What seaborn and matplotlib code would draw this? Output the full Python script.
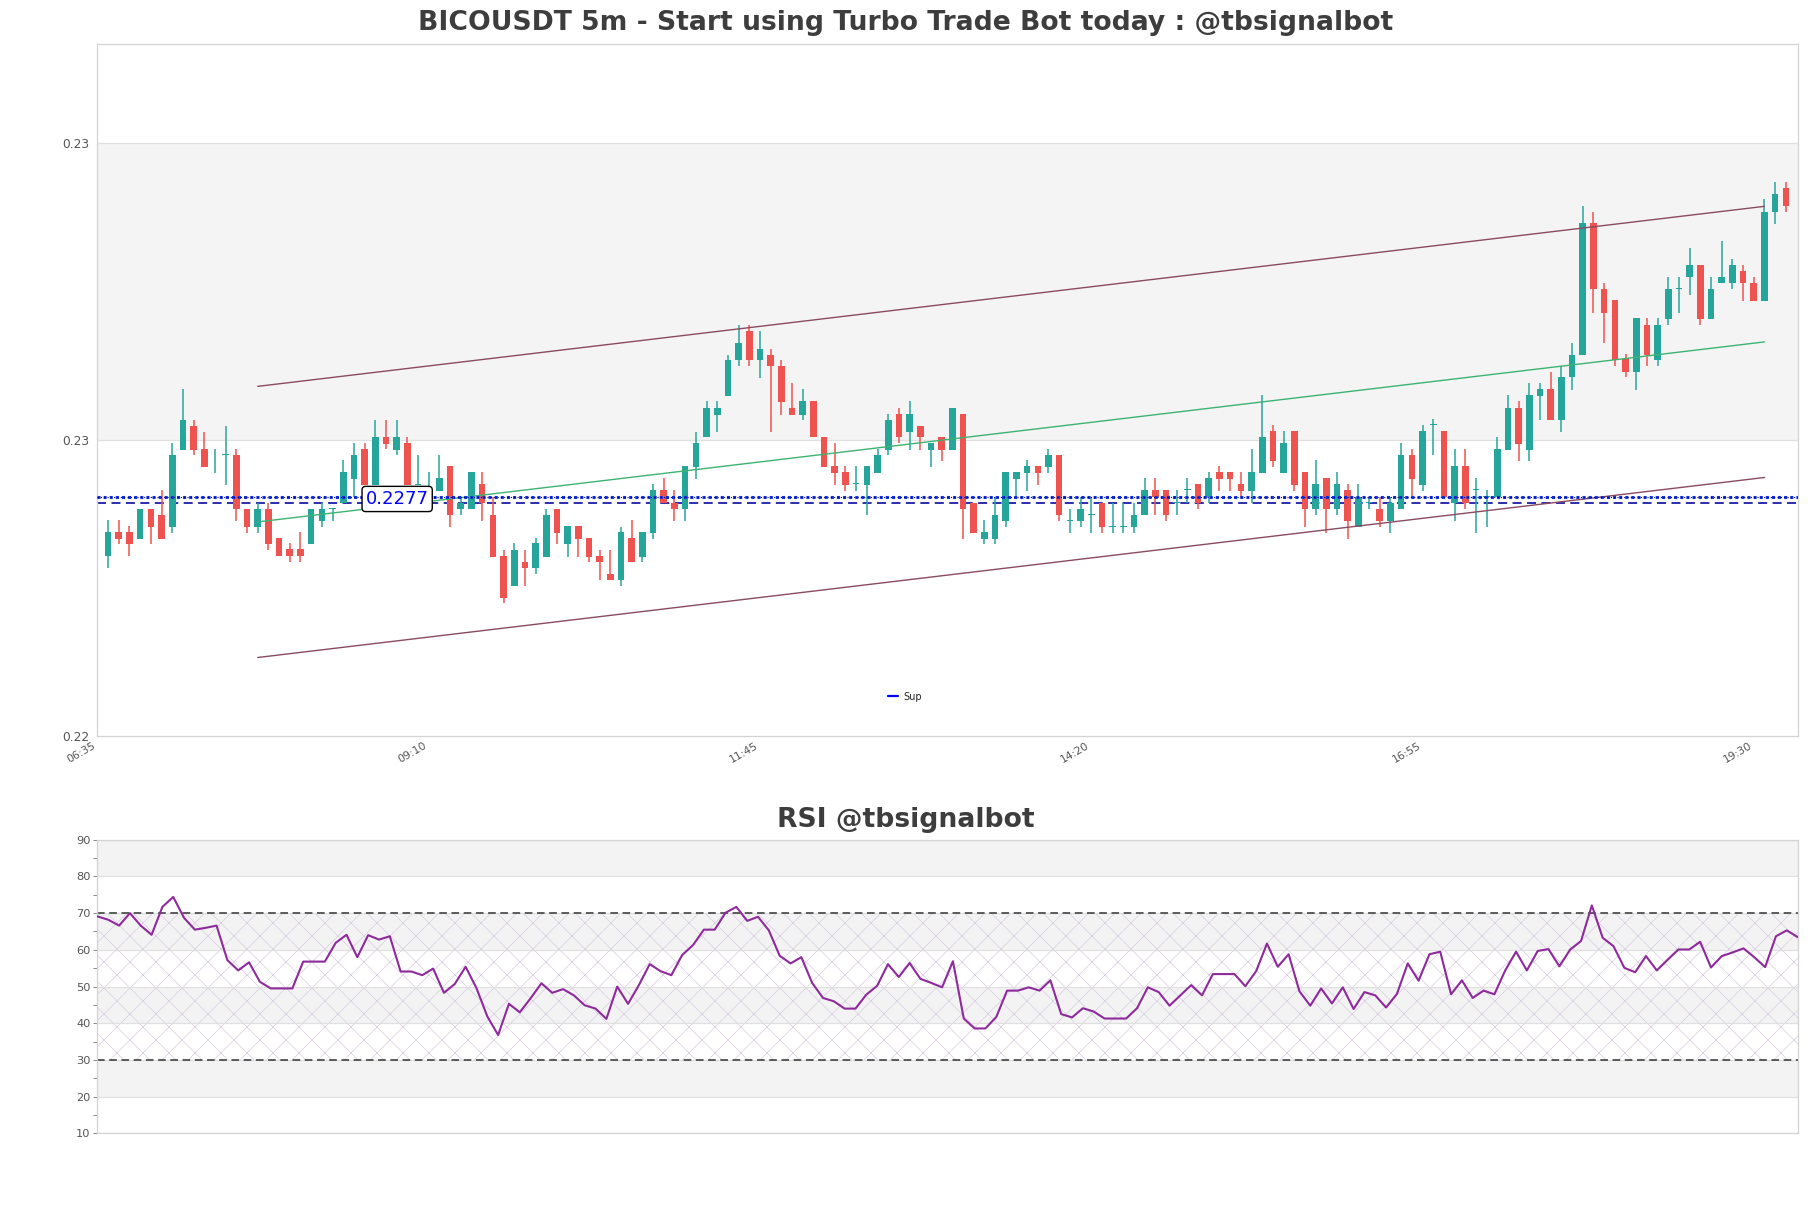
import numpy as np
import pandas as pd
import matplotlib
matplotlib.use("Agg")
import matplotlib.pyplot as plt
from matplotlib.lines import Line2D
from matplotlib.ticker import FormatStrFormatter, MultipleLocator
import seaborn as sns

# ---------------- data ----------------
open_ = [0.22693, 0.22725, 0.22725, 0.22716, 0.22757, 0.22749, 0.22732, 0.22836, 0.22869, 0.22837,
         0.22822, 0.22829, 0.22830, 0.22757, 0.22732, 0.22757, 0.22717, 0.22702, 0.22702, 0.22709,
         0.22740, 0.22756, 0.22764, 0.22797, 0.22837, 0.22789, 0.22853, 0.22836, 0.22845, 0.22789,
         0.22779, 0.22781, 0.22814, 0.22756, 0.22756, 0.22790, 0.22749, 0.22693, 0.22652, 0.22685,
         0.22677, 0.22692, 0.22757, 0.22709, 0.22733, 0.22717, 0.22693, 0.22669, 0.22661, 0.22717,
         0.22692, 0.22724, 0.22782, 0.22765, 0.22756, 0.22813, 0.22853, 0.22884, 0.22909, 0.22957,
         0.22997, 0.22957, 0.22965, 0.22950, 0.22893, 0.22884, 0.22902, 0.22853, 0.22814, 0.22806,
         0.22790, 0.22789, 0.22805, 0.22836, 0.22885, 0.22861, 0.22869, 0.22836, 0.22853, 0.22836,
         0.22885, 0.22765, 0.22716, 0.22716, 0.22740, 0.22797, 0.22805, 0.22814, 0.22813, 0.22830,
         0.22740, 0.22740, 0.22748, 0.22765, 0.22732, 0.22732, 0.22732, 0.22748, 0.22782, 0.22782,
         0.22765, 0.22782, 0.22790, 0.22772, 0.22806, 0.22806, 0.22790, 0.22781, 0.22805, 0.22862,
         0.22805, 0.22862, 0.22806, 0.22756, 0.22798, 0.22756, 0.22782, 0.22732, 0.22765, 0.22757,
         0.22740, 0.22756, 0.22830, 0.22789, 0.22870, 0.22862, 0.22764, 0.22814, 0.22782, 0.22773,
         0.22772, 0.22836, 0.22893, 0.22836, 0.22909, 0.22918, 0.22876, 0.22934, 0.22964, 0.23142,
         0.23054, 0.23038, 0.22959, 0.22942, 0.23005, 0.22958, 0.23013, 0.23054, 0.23069, 0.23086,
         0.23013, 0.23061, 0.23061, 0.23078, 0.23062, 0.23037, 0.23158, 0.23190]
high = [0.22741, 0.22741, 0.22733, 0.22757, 0.22757, 0.22782, 0.22845, 0.22918, 0.22877, 0.22861,
        0.22837, 0.22869, 0.22837, 0.22757, 0.22765, 0.22765, 0.22717, 0.22710, 0.22725, 0.22757,
        0.22765, 0.22756, 0.22822, 0.22845, 0.22845, 0.22877, 0.22877, 0.22877, 0.22853, 0.22830,
        0.22806, 0.22830, 0.22814, 0.22772, 0.22806, 0.22806, 0.22772, 0.22701, 0.22710, 0.22701,
        0.22717, 0.22756, 0.22757, 0.22733, 0.22733, 0.22717, 0.22701, 0.22701, 0.22732, 0.22741,
        0.22725, 0.22790, 0.22798, 0.22782, 0.22814, 0.22861, 0.22902, 0.22902, 0.22965, 0.23005,
        0.23005, 0.22997, 0.22973, 0.22958, 0.22926, 0.22918, 0.22902, 0.22853, 0.22845, 0.22814,
        0.22814, 0.22814, 0.22837, 0.22885, 0.22893, 0.22902, 0.22869, 0.22845, 0.22853, 0.22893,
        0.22885, 0.22765, 0.22741, 0.22773, 0.22806, 0.22806, 0.22822, 0.22814, 0.22837, 0.22830,
        0.22757, 0.22773, 0.22773, 0.22765, 0.22765, 0.22765, 0.22765, 0.22798, 0.22798, 0.22782,
        0.22782, 0.22798, 0.22790, 0.22806, 0.22814, 0.22806, 0.22806, 0.22837, 0.22910, 0.22870,
        0.22862, 0.22862, 0.22806, 0.22822, 0.22798, 0.22806, 0.22790, 0.22790, 0.22773, 0.22773,
        0.22773, 0.22845, 0.22837, 0.22870, 0.22878, 0.22862, 0.22837, 0.22837, 0.22798, 0.22782,
        0.22853, 0.22910, 0.22902, 0.22926, 0.22926, 0.22942, 0.22950, 0.22981, 0.23166, 0.23158,
        0.23062, 0.23038, 0.22966, 0.23014, 0.23014, 0.23014, 0.23070, 0.23070, 0.23109, 0.23086,
        0.23070, 0.23118, 0.23094, 0.23086, 0.23070, 0.23175, 0.23198, 0.23198]
low = [0.22677, 0.22709, 0.22693, 0.22716, 0.22709, 0.22716, 0.22724, 0.22836, 0.22829, 0.22813,
       0.22805, 0.22789, 0.22740, 0.22724, 0.22724, 0.22701, 0.22693, 0.22685, 0.22685, 0.22709,
       0.22732, 0.22740, 0.22764, 0.22772, 0.22789, 0.22789, 0.22837, 0.22830, 0.22789, 0.22789,
       0.22777, 0.22781, 0.22732, 0.22748, 0.22756, 0.22740, 0.22692, 0.22629, 0.22652, 0.22652,
       0.22669, 0.22692, 0.22709, 0.22692, 0.22692, 0.22685, 0.22661, 0.22661, 0.22652, 0.22685,
       0.22685, 0.22716, 0.22764, 0.22740, 0.22740, 0.22797, 0.22853, 0.22861, 0.22909, 0.22949,
       0.22949, 0.22933, 0.22861, 0.22884, 0.22884, 0.22876, 0.22853, 0.22813, 0.22789, 0.22781,
       0.22781, 0.22748, 0.22805, 0.22829, 0.22845, 0.22836, 0.22836, 0.22813, 0.22821, 0.22836,
       0.22716, 0.22724, 0.22709, 0.22709, 0.22732, 0.22772, 0.22781, 0.22789, 0.22805, 0.22740,
       0.22724, 0.22732, 0.22724, 0.22724, 0.22724, 0.22724, 0.22724, 0.22748, 0.22748, 0.22740,
       0.22748, 0.22765, 0.22756, 0.22765, 0.22781, 0.22781, 0.22772, 0.22765, 0.22805, 0.22813,
       0.22805, 0.22781, 0.22732, 0.22748, 0.22724, 0.22748, 0.22716, 0.22732, 0.22756, 0.22732,
       0.22724, 0.22756, 0.22772, 0.22781, 0.22829, 0.22772, 0.22740, 0.22756, 0.22724, 0.22732,
       0.22772, 0.22836, 0.22821, 0.22821, 0.22876, 0.22876, 0.22860, 0.22917, 0.22964, 0.23021,
       0.22980, 0.22949, 0.22934, 0.22917, 0.22950, 0.22950, 0.23005, 0.23021, 0.23045, 0.23005,
       0.23013, 0.23061, 0.23053, 0.23037, 0.23037, 0.23037, 0.23141, 0.23158]
close = [0.22725, 0.22716, 0.22709, 0.22757, 0.22732, 0.22716, 0.22830, 0.22877, 0.22836, 0.22813,
         0.22822, 0.22829, 0.22756, 0.22732, 0.22757, 0.22709, 0.22693, 0.22693, 0.22693, 0.22757,
         0.22757, 0.22756, 0.22806, 0.22830, 0.22789, 0.22853, 0.22844, 0.22853, 0.22789, 0.22789,
         0.22782, 0.22798, 0.22748, 0.22765, 0.22806, 0.22764, 0.22692, 0.22636, 0.22701, 0.22677,
         0.22710, 0.22749, 0.22724, 0.22733, 0.22716, 0.22692, 0.22685, 0.22661, 0.22725, 0.22685,
         0.22725, 0.22782, 0.22764, 0.22756, 0.22814, 0.22845, 0.22893, 0.22893, 0.22958, 0.22981,
         0.22957, 0.22973, 0.22949, 0.22901, 0.22884, 0.22902, 0.22853, 0.22813, 0.22805, 0.22789,
         0.22790, 0.22814, 0.22830, 0.22877, 0.22853, 0.22885, 0.22853, 0.22845, 0.22836, 0.22893,
         0.22756, 0.22724, 0.22725, 0.22749, 0.22806, 0.22806, 0.22814, 0.22805, 0.22830, 0.22748,
         0.22740, 0.22757, 0.22748, 0.22732, 0.22732, 0.22732, 0.22749, 0.22782, 0.22772, 0.22748,
         0.22765, 0.22782, 0.22765, 0.22798, 0.22797, 0.22797, 0.22781, 0.22806, 0.22853, 0.22821,
         0.22845, 0.22789, 0.22756, 0.22790, 0.22756, 0.22790, 0.22740, 0.22773, 0.22765, 0.22740,
         0.22765, 0.22830, 0.22797, 0.22862, 0.22870, 0.22772, 0.22814, 0.22764, 0.22782, 0.22773,
         0.22837, 0.22893, 0.22844, 0.22910, 0.22918, 0.22876, 0.22934, 0.22965, 0.23142, 0.23053,
         0.23021, 0.22957, 0.22942, 0.23014, 0.22964, 0.23005, 0.23054, 0.23054, 0.23086, 0.23013,
         0.23054, 0.23070, 0.23086, 0.23061, 0.23037, 0.23158, 0.23182, 0.23166]

rsi = [69.1, 68.2, 66.6, 70.0, 66.6, 64.1, 71.7, 74.4, 68.7, 65.5,
       66.0, 66.6, 57.2, 54.4, 56.6, 51.3, 49.5, 49.5, 49.5, 56.8,
       56.8, 56.8, 61.9, 64.1, 58.0, 64.0, 62.8, 63.7, 54.1, 54.1,
       53.1, 54.9, 48.3, 50.7, 55.4, 49.6, 41.9, 36.8, 45.3, 43.0,
       46.8, 50.9, 48.3, 49.3, 47.6, 44.9, 44.0, 41.2, 50.0, 45.3,
       50.4, 56.1, 54.2, 53.1, 58.6, 61.3, 65.5, 65.5, 70.1, 71.7,
       67.9, 69.0, 65.3, 58.4, 56.3, 58.0, 51.0, 46.9, 46.0, 44.0,
       44.0, 47.8, 50.2, 56.1, 52.6, 56.4, 52.1, 51.0, 49.8, 56.9,
       41.3, 38.6, 38.6, 41.7, 48.9, 48.9, 49.8, 48.9, 51.7, 42.5,
       41.6, 44.1, 43.2, 41.3, 41.3, 41.3, 44.1, 49.8, 48.5, 44.8,
       47.6, 50.4, 47.6, 53.4, 53.4, 53.4, 50.1, 54.2, 61.7, 55.4,
       58.8, 48.7, 44.8, 49.5, 45.4, 49.8, 43.9, 48.5, 47.6, 44.3,
       48.0, 56.3, 51.6, 58.8, 59.5, 47.9, 51.7, 46.9, 48.9, 47.9,
       54.4, 59.5, 54.4, 59.7, 60.2, 55.5, 60.1, 62.4, 72.1, 63.3,
       61.0, 55.1, 53.9, 58.3, 54.4, 57.3, 60.1, 60.1, 62.2, 55.2,
       58.3, 59.3, 60.4, 58.0, 55.3, 63.7, 65.3, 63.5]

x_tick_pos = [0, 31, 62, 93, 124, 155]
x_tick_labels = ["06:35", "09:10", "11:45", "14:20", "16:55", "19:30"]
y_ticks = [0.2245, 0.2285, 0.2325]

chan_x = [15, 156]
chan_upper = [0.22922, 0.23165]
chan_mid = [0.22739, 0.22982]
chan_lower = [0.22556, 0.22799]

sup_level = 0.2277
sup_dotted = 0.22773
sup_dashed = 0.22765

title_main = "BICOUSDT 5m - Start using Turbo Trade Bot today : @tbsignalbot"
title_rsi = "RSI @tbsignalbot"

# ---------------- style ----------------
DPI = 78
K = 100 / DPI   # keeps point sizes equal to a 100-dpi rendering

sns.set_style("white")
plt.rcParams["font.family"] = ["DejaVu Sans"]
plt.rcParams["hatch.linewidth"] = 0.5 * K

GREEN = "#26a69a"
RED = "#ef5350"
GRID = "#e0e0e0"
BAND = "#f4f4f4"
SPINE = "#d3d3d3"
TXT = "#555555"

fig = plt.figure(figsize=(1811 / DPI, 1208 / DPI), dpi=DPI)
ax = fig.add_axes([0.0538, 0.3907, 0.9388, 0.5728])
ax2 = fig.add_axes([0.0538, 0.0617, 0.9388, 0.2432])

df = pd.DataFrame({"open": open_, "high": high, "low": low, "close": close})
df["idx"] = np.arange(1, len(df) + 1)
up = df["close"] >= df["open"]
cols = np.where(up, GREEN, RED)

# ---------------- main chart ----------------
ax.axhspan(y_ticks[1], y_ticks[2], color=BAND, zorder=0, lw=0)
for yv in y_ticks[1:]:
    ax.axhline(yv, color=GRID, lw=0.9 * K, zorder=0.5)

ax.axhline(sup_dashed, color="#1c1ca8", lw=1.3 * K, ls=(0, (5, 3)), zorder=1.5)

ax.vlines(df["idx"], df["low"], df["high"], colors=cols, lw=1.1 * K, zorder=2)
body_bottom = np.minimum(df["open"], df["close"])
body_h = np.maximum((df["close"] - df["open"]).abs(), 0.000012)
ax.bar(df["idx"], body_h, bottom=body_bottom, width=0.62, color=cols, lw=0, zorder=3)

ax.plot(chan_x, chan_upper, color="#8a4a60", lw=1.0 * K, zorder=4)
ax.plot(chan_x, chan_lower, color="#8a4a60", lw=1.0 * K, zorder=4)
ax.plot(chan_x, chan_mid, color="#3cb371", lw=1.0 * K, zorder=4)

ax.axhline(sup_dotted, color="#1030e0", lw=2.2 * K, ls=(0, (1, 1)), zorder=5)
ax.axhline(sup_dotted, color="#000080", lw=0.8 * K, ls=(0, (1, 2)), zorder=5.1)

ax.text(25.1, sup_level, f"{sup_level:.4f}", color="blue", fontsize=13 * K,
        ha="left", va="center", zorder=7,
        bbox=dict(boxstyle="round,pad=0.2", fc="white", ec="black", lw=1 * K))

handle = Line2D([0], [0], color="blue", lw=1.6 * K)
ax.legend(handles=[handle], labels=["Sup"], loc="center", bbox_to_anchor=(0.475, 0.057),
          frameon=False, fontsize=7 * K, handlelength=1.0, handletextpad=0.6)

ax.set_xlim(0, 159.1)
ax.set_ylim(0.2245, 0.23384)
ax.set_xticks(x_tick_pos)
ax.set_xticklabels(x_tick_labels, rotation=30, ha="right", fontsize=7.8 * K, color=TXT)
ax.set_yticks(y_ticks)
ax.yaxis.set_major_formatter(FormatStrFormatter("%.2f"))
ax.tick_params(axis="x", length=0, labelsize=7.8 * K, labelcolor=TXT, pad=3 * K)
ax.tick_params(axis="y", length=0, labelsize=8.8 * K, labelcolor=TXT, pad=6 * K)
for s in ax.spines.values():
    s.set_color(SPINE)
    s.set_linewidth(0.9 * K)

# ---------------- RSI chart ----------------
for lo_, hi_ in [(20, 30), (40, 50), (60, 70), (80, 90)]:
    ax2.axhspan(lo_, hi_, color="#f3f3f3", zorder=0, lw=0)
rsi_x = np.arange(len(rsi))
ax2.fill_between([0, len(rsi) - 1], 30, 70, facecolor="none", edgecolor="#d8cce0",
                 hatch="x", lw=0, zorder=0.6)
for yv in range(10, 91, 10):
    ax2.axhline(yv, color=GRID, lw=0.9 * K, zorder=0.7)
ax2.axhline(70, color="#333333", lw=1.1 * K, ls=(0, (5, 3)), zorder=1)
ax2.axhline(30, color="#333333", lw=1.1 * K, ls=(0, (5, 3)), zorder=1)

rsi_df = pd.DataFrame({"k": rsi_x, "rsi": rsi})
sns.lineplot(data=rsi_df, x="k", y="rsi", ax=ax2, color="#8e2a9c", lw=1.5 * K,
             legend=False, zorder=3)

ax2.set_xlim(0, len(rsi) - 1)
ax2.set_ylim(10, 90)
ax2.set_yticks(range(10, 91, 10))
ax2.yaxis.set_minor_locator(MultipleLocator(5))
ax2.set_xticks([])
ax2.set_xlabel("")
ax2.set_ylabel("")
ax2.tick_params(axis="y", which="both", length=3 * K, width=0.7 * K, color="#888888",
                labelsize=8.2 * K, labelcolor=TXT, left=True, pad=2 * K)
for s in ax2.spines.values():
    s.set_color(SPINE)
    s.set_linewidth(0.9 * K)

# ---------------- titles ----------------
fig.text(0.5, 1 - 23 / 1208, title_main, ha="center", va="center",
         fontsize=19.2 * K, fontweight="bold", color="#3d3d3d")
fig.text(0.5, 1 - 820 / 1208, title_rsi, ha="center", va="center",
         fontsize=19.2 * K, fontweight="bold", color="#3d3d3d")

fig.savefig("out.png", dpi=DPI)
